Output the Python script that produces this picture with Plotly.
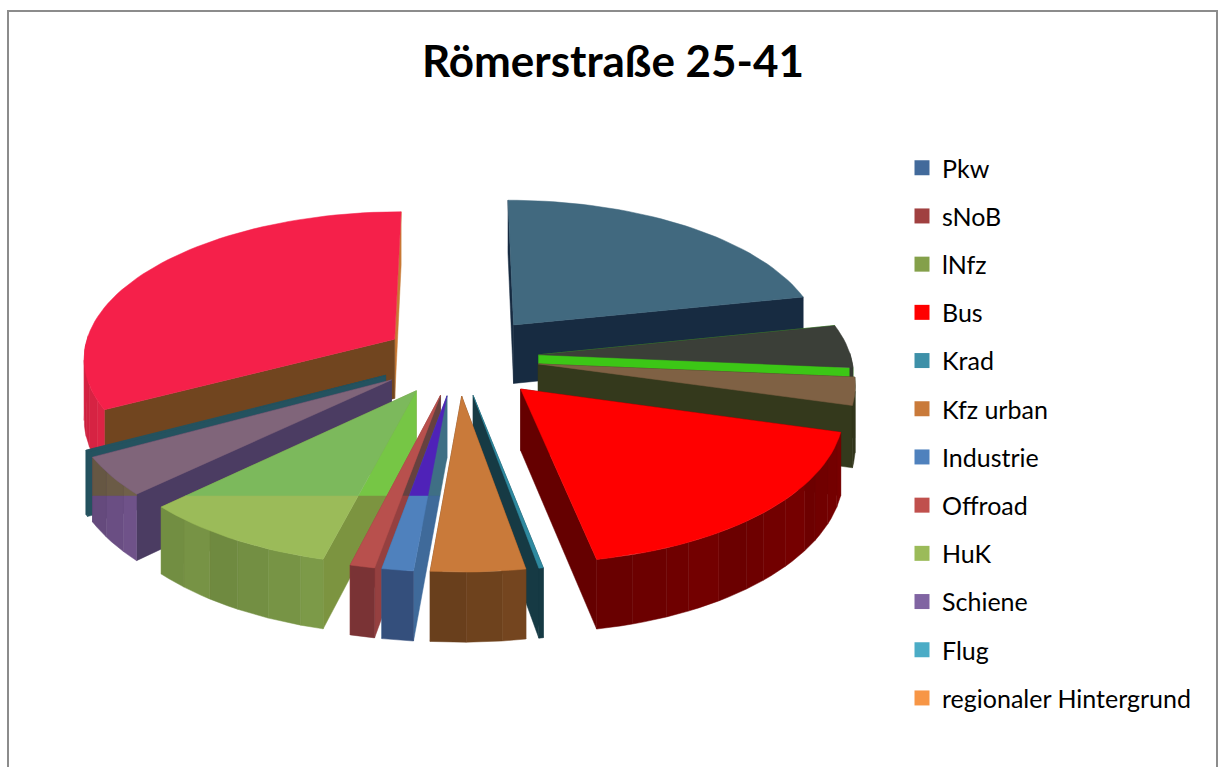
import math
import plotly.graph_objects as go

# ---- data ----
categories = ["Pkw", "sNoB", "lNfz", "Bus", "Krad", "Kfz urban", "Industrie",
              "Offroad", "HuK", "Schiene", "Flug", "regionaler Hintergrund"]
shares = [21.7, 4.7, 3.0, 17.6, 0.2, 4.2, 1.4, 1.1, 8.9, 4.2, 0.2, 32.8]

# ---- styles ----
explosion = [0.29, 0.26, 0.26, 0.29, 0.26, 0.26, 0.26, 0.26, 0.26, 0.26, 0.26, 0.24]
legend_colors = ["#426a9b", "#a04040", "#84a04a", "#ff0000", "#3e90a8", "#c97a3a",
                 "#4f81bd", "#c0504d", "#9bbb59", "#8064a2", "#4bacc6", "#f79646"]
top_colors = ["#41697f", "#3b3f38", "#7f6144", "#ff0000", "#2f8aa0", "#c97a3a",
              "#4f81bd", "#b8504d", "#9bbb59", "#80657a", "#24525f", "#f5204a"]
top_above = {6: "#4f22b8", 8: "#7cb95c"}
start_wall = ["#172b41", "#3cc716", "#34391c", "#650000", "#163a44", "#6e401f",
              "#3f6a9a", "#954040", "#7c9440", "#4b3c62", "#24525f", "#71451f"]
start_above = {6: "#3f6f85", 7: "#66413f", 8: "#76c645"}
end_wall = ["#172b41", "#3cc716", "#34391c", "#650000", "#163a44", "#6e401f",
            "#3f6a9a", "#954040", "#7c9440", "#4b3c62", "#24525f", "#c87a35"]
outer_wall = ["#172b41", "#3b3f38", "#34391c", "#780000", "#163a44", "#74451f",
              "#344f7c", "#7a3335", "#7c9a48", "#6f5289", "#24525f", "#dc2445"]
outer_above = {9: "#70604a"}
draw_order = [0, 1, 2, 3, 11, 10, 9, 8, 7, 6, 4, 5]

# ---- camera of the tilted pie, in page pixels ----
CX, CY = 458, 357
R, DEPTH, PERSP = 312, 146, 0.115
HEIGHT, BAND_Y = 60, 496


def project(u, v, drop=False):
    s = 1 / (1 - PERSP * v)
    return (CX + R * u * s, CY + DEPTH * v * s + (HEIGHT * s if drop else 0))


def clip(poly, above):
    out = []
    for i, p in enumerate(poly):
        q = poly[(i + 1) % len(poly)]
        pin = (p[1] <= BAND_Y) == above
        qin = (q[1] <= BAND_Y) == above
        if pin:
            out.append(p)
        if pin != qin:
            t = (BAND_Y - p[1]) / (q[1] - p[1])
            out.append((p[0] + t * (q[0] - p[0]), BAND_Y))
    return out


def shade(color, f):
    r, g, b = (int(color[i:i + 2], 16) for i in (1, 3, 5))
    return "#%02x%02x%02x" % (int(r * f), int(g * f), int(b * f))


fig = go.Figure()


def face(poly, color, group, above=None):
    parts = [(poly, color)]
    if above:
        parts = [(clip(poly, True), above), (clip(poly, False), color)]
    for pts, col in parts:
        if len(pts) < 3:
            continue
        fig.add_trace(go.Scatter(
            x=[p[0] for p in pts] + [pts[0][0]], y=[p[1] for p in pts] + [pts[0][1]],
            mode="lines", fill="toself", fillcolor=col,
            line=dict(color=col, width=0.5), legendgroup=group,
            showlegend=False, hoverinfo="skip"))


total = sum(shares)
edges = [0.0]
for val in shares:
    edges.append(edges[-1] + val / total * 2 * math.pi)

for i in draw_order:
    a0, a1 = edges[i], edges[i + 1]
    mid = (a0 + a1) / 2
    au, av = explosion[i] * math.sin(mid), -explosion[i] * math.cos(mid)
    n = max(2, int((a1 - a0) / math.radians(2)) + 1)
    angs = [a0 + (a1 - a0) * k / n for k in range(n + 1)]
    rim = [(au + math.sin(a), av - math.cos(a)) for a in angs]
    name = categories[i]
    walls = [(rim[0], start_wall[i], start_above.get(i)), (rim[-1], end_wall[i], None)]
    if mid > math.pi:  # the wall nearest the viewer goes last
        walls.reverse()
    for rp, col, ab in walls:
        face([project(au, av), project(*rp), project(*rp, True), project(au, av, True)],
             col, name, ab)
    facets = max(1, int((a1 - a0) / math.radians(5)))
    step = n / facets
    for f in range(facets):
        k0, k1 = int(f * step), int((f + 1) * step)
        seg = rim[k0:k1 + 1]
        if max(p[1] - av for p in seg) <= 0:
            continue
        poly = [project(*p) for p in seg] + [project(*p, True) for p in reversed(seg)]
        mix = 1.0 - 0.07 * (f % 4) / 3 - 0.06 * (f / facets)
        ab = outer_above.get(i)
        face(poly, shade(outer_wall[i], mix), name, shade(ab, mix) if ab else None)
    face([project(au, av)] + [project(*p) for p in rim], top_colors[i], name, top_above.get(i))

for name, col in zip(categories, legend_colors):
    fig.add_trace(go.Scatter(x=[None], y=[None], mode="markers", name=name, legendgroup=name,
                             marker=dict(symbol="square", size=15, color=col)))

W, H = 1218, 767
fig.add_shape(type="path", path=f"M 8 {H+5} L 8 11 L 1217 11 L 1217 {H+5}", xref="x", yref="y",
              line=dict(color="#8c8c8c", width=2))
fig.update_layout(
    width=W, height=H, margin=dict(l=0, r=0, t=0, b=0),
    paper_bgcolor="white", plot_bgcolor="white",
    xaxis=dict(range=[0, W], visible=False, fixedrange=True),
    yaxis=dict(range=[H, 0], visible=False, fixedrange=True),
    title=dict(text="<b>Römerstraße 25-41</b>", x=613 / W, xanchor="center", xref="paper",
               y=1 - 62 / H, yanchor="middle", yref="paper",
               font=dict(family="Lato", size=44, color="black")),
    font=dict(family="Lato", size=25, color="black"),
    legend=dict(x=902 / W, y=1 - 145 / H, xanchor="left", yanchor="top",
                tracegroupgap=12.7, itemsizing="trace", font=dict(family="Lato", size=25),
                bgcolor="rgba(0,0,0,0)", traceorder="grouped", itemclick=False, itemdoubleclick=False),
    showlegend=True,
)
fig.write_html("out.html", post_script="document.body.style.margin='0';",
               config={"displayModeBar": False})
